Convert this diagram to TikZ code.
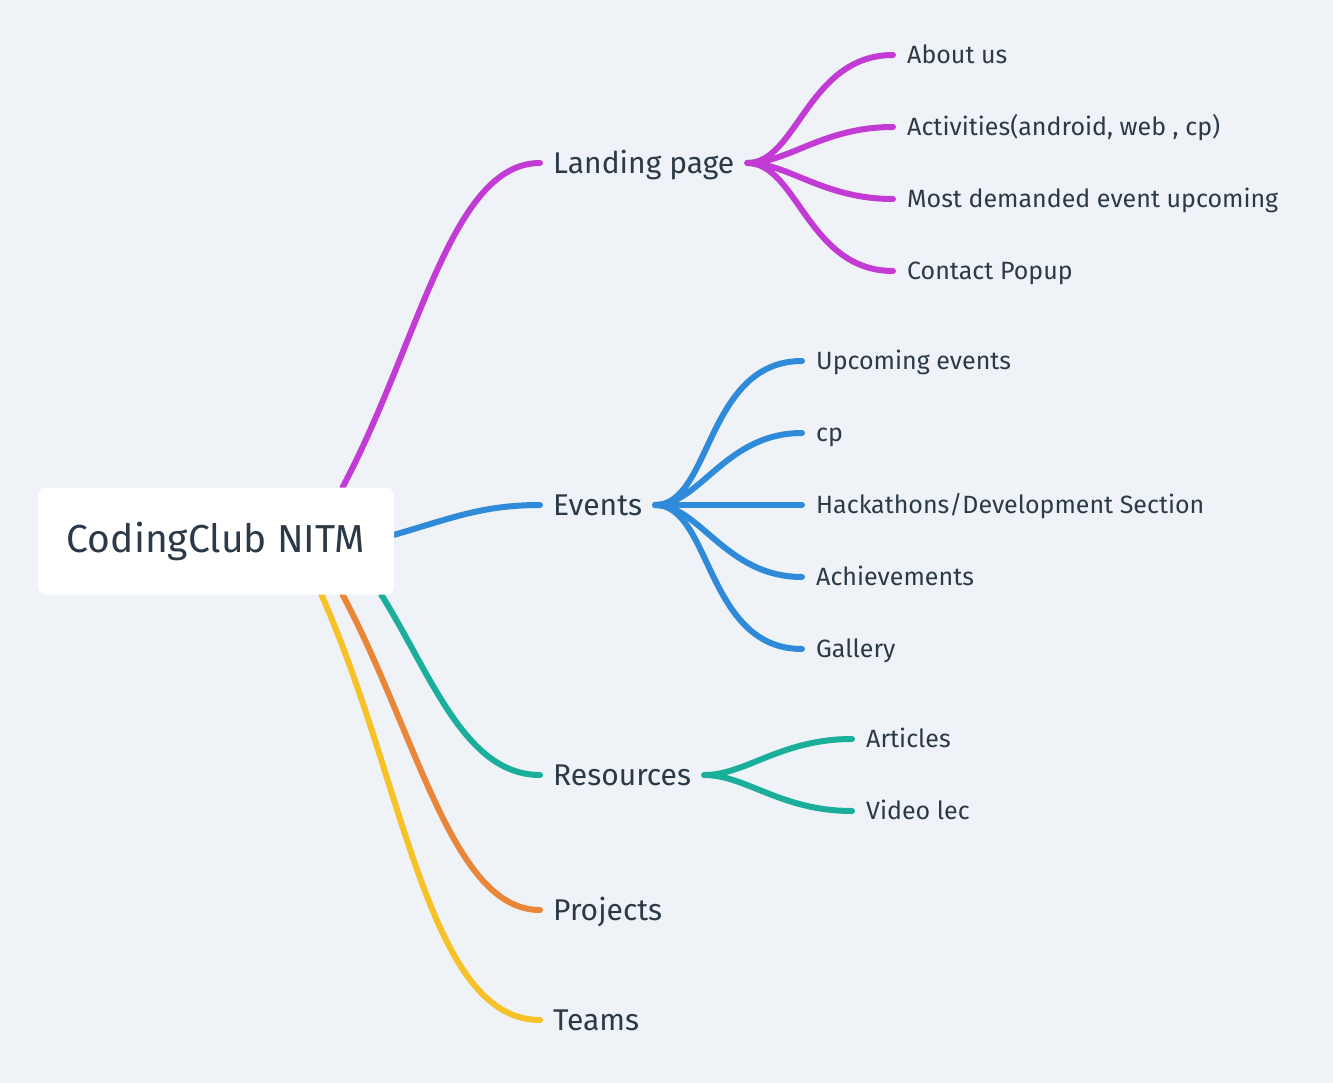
\documentclass[tikz,border=0pt]{standalone}
\usepackage{fontspec}
\setmainfont{Fira Sans}
\usetikzlibrary{backgrounds}
\definecolor{paper}{HTML}{EFF3F7}
\definecolor{ink}{HTML}{2C3A47}
\definecolor{landcol}{HTML}{C23BD4}
\definecolor{evcol}{HTML}{2F8AD9}
\definecolor{rescol}{HTML}{1BAE9A}
\definecolor{projcol}{HTML}{E8873A}
\definecolor{teamcol}{HTML}{F6C228}
\tikzset{
    rootbox/.style={fill=white, rounded corners=8pt, minimum width=356pt, minimum height=107pt,
        inner sep=0pt, text=ink, font=\fontsize{39}{44}\selectfont},
    topic/.style={anchor=west, inner xsep=13pt, inner ysep=0pt, text height=20.7pt, text depth=0pt,
        text=ink, font=\fontsize{30}{34}\selectfont},
    leaf/.style={anchor=west, inner xsep=14pt, inner ysep=0pt, text height=17.3pt, text depth=0pt,
        text=ink, font=\fontsize{25}{29}\selectfont},
    branch/.style={line width=6pt, line cap=round},
    fan/.style={out=0, in=180, out looseness=.7, in looseness=1.2},
}
\begin{document}
\begin{tikzpicture}[x=1pt,y=-1pt]
    \useasboundingbox (0,0) rectangle (1333,1083);
    \begin{scope}[on background layer]
        \fill[paper] (0,0) rectangle (1333,1083);
    \end{scope}
    % root and main topics
    \node[rootbox] (root) at (216,541) {CodingClub NITM};
    \node[topic] (landing) at (540,163) {Landing page};
    \node[topic] (events) at (540,505) {Events};
    \node[topic] (resources) at (540,775) {Resources};
    \node[topic] (projects) at (540,910) {Projects};
    \node[topic] (teams) at (540,1020) {Teams};
    % leaves
    \node[leaf] (about) at (893,55) {About us};
    \node[leaf] (activities) at (893,127) {Activities(android, web , cp)};
    \node[leaf] (demanded) at (893,199) {Most demanded event upcoming};
    \node[leaf] (contact) at (893,271) {Contact Popup};
    \node[leaf] (upcoming) at (802,361) {Upcoming events};
    \node[leaf] (cp) at (802,433) {cp};
    \node[leaf] (hackathons) at (802,505) {Hackathons/Development Section};
    \node[leaf] (achievements) at (802,577) {Achievements};
    \node[leaf] (gallery) at (802,649) {Gallery};
    \node[leaf] (articles) at (852,739) {Articles};
    \node[leaf] (videolec) at (852,811) {Video lec};
    % connectors
    \begin{scope}[on background layer]
        \draw[branch,landcol] (root.23.5) to[out=62,in=180,out looseness=1.1,in looseness=.6] (landing.west);
        \draw[branch,evcol] (root.2.6) to[out=16,in=180] (events.west);
        \draw[branch,rescol] (root.-18.4) to[out=-58,in=180,in looseness=.8] (resources.west);
        \draw[branch,projcol] (root.-23) to[out=-62,in=180,out looseness=1.1,in looseness=.6] (projects.west);
        \draw[branch,teamcol] (root.-27.9) to[out=-66,in=180,out looseness=1.1,in looseness=.6] (teams.west);
    \end{scope}
    \draw[branch,landcol] (landing.east) to[fan] (about.west);
    \draw[branch,landcol] (landing.east) to[fan] (activities.west);
    \draw[branch,landcol] (landing.east) to[fan] (demanded.west);
    \draw[branch,landcol] (landing.east) to[fan] (contact.west);
    \draw[branch,evcol] (events.east) to[fan] (upcoming.west);
    \draw[branch,evcol] (events.east) to[fan] (cp.west);
    \draw[branch,evcol] (events.east) -- (hackathons.west);
    \draw[branch,evcol] (events.east) to[fan] (achievements.west);
    \draw[branch,evcol] (events.east) to[fan] (gallery.west);
    \draw[branch,rescol] (resources.east) to[fan] (articles.west);
    \draw[branch,rescol] (resources.east) to[fan] (videolec.west);
\end{tikzpicture}
\end{document}
